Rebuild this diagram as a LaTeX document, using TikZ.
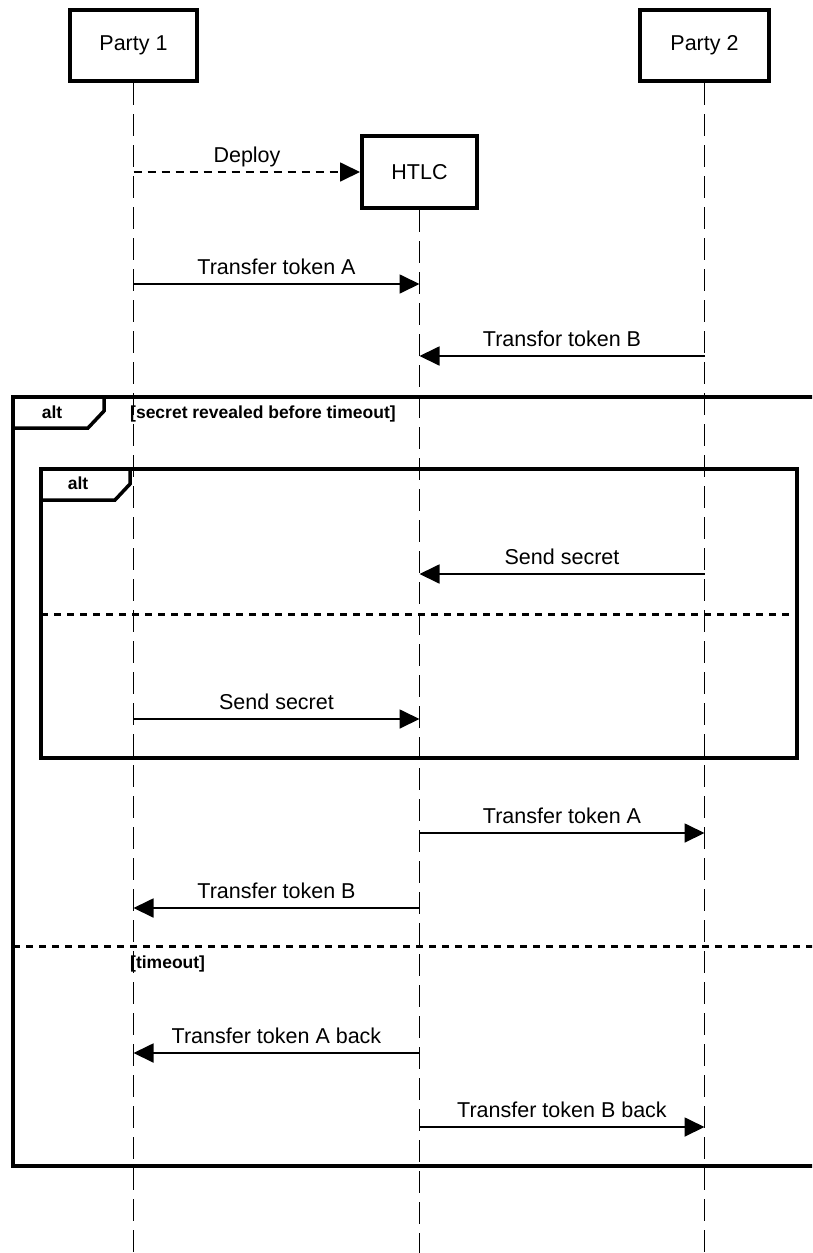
\documentclass[tikz,border=0pt]{standalone}
\usepackage{fontspec}
\setmainfont{Liberation Sans}
\usetikzlibrary{arrows.meta}
\begin{document}
\begin{tikzpicture}[x=1pt,y=-1pt,
  actor/.style={draw,line width=4pt,minimum width=127pt,minimum height=71pt,inner sep=0pt,font=\fontsize{21.5}{24}\selectfont},
  lifeline/.style={line width=1.8pt,dash pattern=on 22pt off 9pt},
  msg/.style={line width=1.8pt,-{Triangle[length=20pt,width=19pt]}},
  depmsg/.style={msg,dash pattern=on 8pt off 6pt},
  lbl/.style={anchor=base,font=\fontsize{21.5}{24}\selectfont,inner sep=0pt},
  frameline/.style={line width=3.5pt},
  divider/.style={line width=3pt,dash pattern=on 7pt off 6pt},
  flabel/.style={font=\bfseries\fontsize{17.5}{20}\selectfont,anchor=base,inner sep=0pt}]
\useasboundingbox (0,0) rectangle (812,1253);
\fill[white] (0,0) rectangle (812,1253);
\clip (0,0) rectangle (812,1253);

% actors
\node[actor] (p1) at (133.5,45.5) {Party 1};
\node[actor,minimum width=129pt] (p2) at (704.5,45.5) {Party 2};
\node[actor,minimum width=115pt,minimum height=72pt] (htlc) at (419.5,172) {HTLC};

% lifeline ends
\coordinate (p1end) at (133.5,1253);
\coordinate (p2end) at (704.5,1253);
\coordinate (hend) at (419.5,1253);
\draw[lifeline] (p1.south) -- (p1end);
\draw[lifeline] (p2.south) -- (p2end);
\draw[lifeline] (htlc.south) -- (hend);

% frames
\draw[frameline] (13,397) rectangle (830,1166);
\draw[frameline] (13,428) -- (88,428) -- (104,411) -- (104,397);
\node[flabel] (alt1) at (52,418) {alt};
\node[flabel,anchor=base west] (cond1) at (130,418) {[secret revealed before timeout]};
\draw[divider] (13,946) -- (830,946);
\node[flabel,anchor=base west] (cond2) at (130,968) {[timeout]};

\draw[frameline] (41,469) rectangle (797,758);
\draw[frameline] (41,500) -- (115,500) -- (130,484) -- (130,469);
\node[flabel] (alt2) at (78,489) {alt};
\draw[divider] (41,614) -- (797,614);

% message anchor points
\coordinate (d0) at (133.5,172);
\coordinate (m1s) at (133.5,284);  \coordinate (m1e) at (419.5,284);
\coordinate (m2s) at (704.5,356);  \coordinate (m2e) at (419.5,356);
\coordinate (m3s) at (704.5,574);  \coordinate (m3e) at (419.5,574);
\coordinate (m4s) at (133.5,719);  \coordinate (m4e) at (419.5,719);
\coordinate (m5s) at (419.5,833);  \coordinate (m5e) at (704.5,833);
\coordinate (m6s) at (419.5,908);  \coordinate (m6e) at (133.5,908);
\coordinate (m7s) at (419.5,1053); \coordinate (m7e) at (133.5,1053);
\coordinate (m8s) at (419.5,1127); \coordinate (m8e) at (704.5,1127);

% messages
\draw[depmsg] (d0) -- (htlc.west);
\node[lbl] (ld) at (247,162) {Deploy};
\draw[msg] (m1s) -- (m1e);
\node[lbl] (l1) at (276.5,274) {Transfer token A};
\draw[msg] (m2s) -- (m2e);
\node[lbl] (l2) at (562,346) {Transfor token B};
\draw[msg] (m3s) -- (m3e);
\node[lbl] (l3) at (562,564) {Send secret};
\draw[msg] (m4s) -- (m4e);
\node[lbl] (l4) at (276.5,709) {Send secret};
\draw[msg] (m5s) -- (m5e);
\node[lbl] (l5) at (562,823) {Transfer token A};
\draw[msg] (m6s) -- (m6e);
\node[lbl] (l6) at (276.5,898) {Transfer token B};
\draw[msg] (m7s) -- (m7e);
\node[lbl] (l7) at (276.5,1043) {Transfer token A back};
\draw[msg] (m8s) -- (m8e);
\node[lbl] (l8) at (562,1117) {Transfer token B back};
\end{tikzpicture}
\end{document}
